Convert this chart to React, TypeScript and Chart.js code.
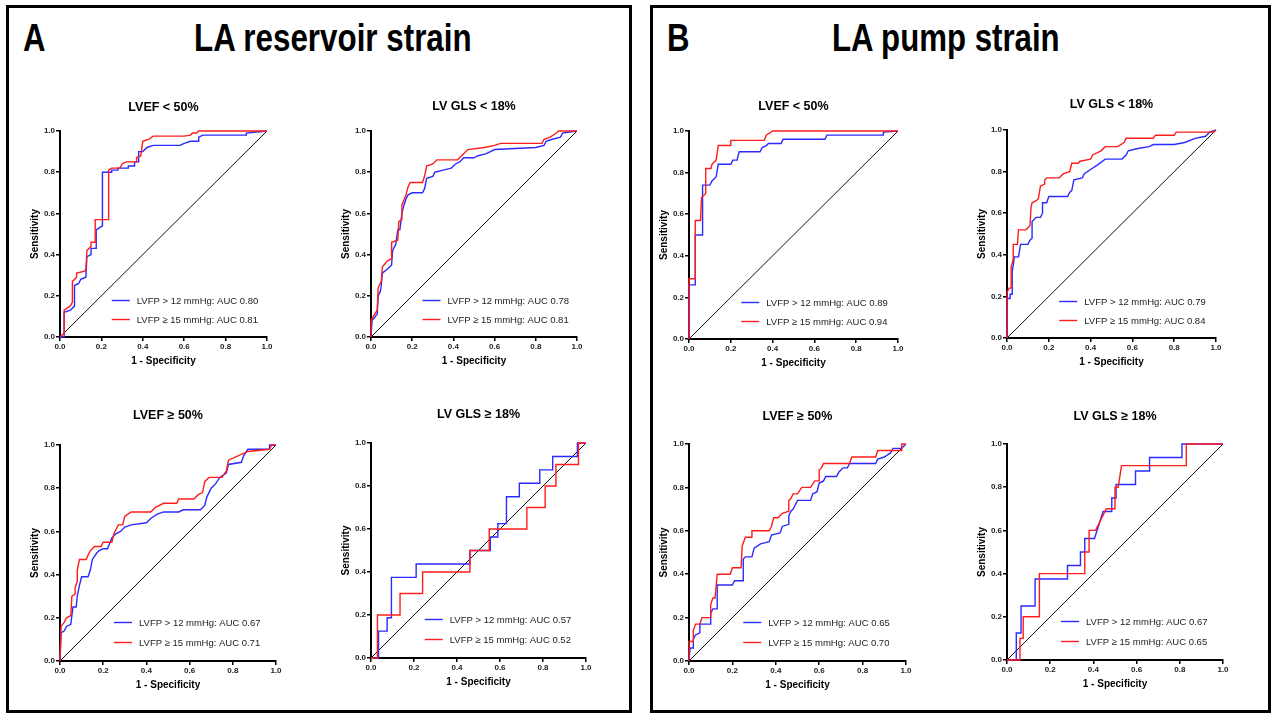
import React, { useEffect, useRef } from 'react';
import { Chart, registerables } from 'chart.js';

Chart.register(...registerables);

type Pt = [number, number];

// ---------- text ----------
const panelLetters = ['A', 'B'];
const panelTitles = ['LA reservoir strain', 'LA pump strain'];
const subplotTitles = ['LVEF < 50%', 'LV GLS < 18%', 'LVEF ≥ 50%', 'LV GLS ≥ 18%'];
const seriesNames = ['LVFP > 12 mmHg', 'LVFP ≥ 15 mmHg'];
const xAxisTitle = '1 - Specificity';
const yAxisTitle = 'Sensitivity';
const tickValues = [0, 0.2, 0.4, 0.6, 0.8, 1.0];

// ---------- AUC values ----------
const aucReservoir12 = [0.80, 0.78, 0.67, 0.57];
const aucReservoir15 = [0.81, 0.81, 0.71, 0.52];
const aucPump12 = [0.89, 0.79, 0.65, 0.67];
const aucPump15 = [0.94, 0.84, 0.70, 0.65];

// ---------- reference line ----------
const referenceLine: Pt[] = [[0, 0], [1, 1]];

// ---------- A: LA reservoir strain ----------
const resLvefLow12: Pt[] = [[0,0],[0.02,0],[0.02,0.12],[0.05,0.13],[0.07,0.15],[0.07,0.25],[0.09,0.26],[0.1,0.28],[0.125,0.29],[0.13,0.39],[0.15,0.4],[0.15,0.43],[0.175,0.43],[0.175,0.52],[0.19,0.53],[0.205,0.54],[0.205,0.8],[0.25,0.8],[0.25,0.81],[0.28,0.81],[0.28,0.82],[0.33,0.82],[0.33,0.83],[0.36,0.83],[0.36,0.85],[0.38,0.85],[0.38,0.9],[0.4,0.9],[0.42,0.92],[0.45,0.93],[0.58,0.93],[0.6,0.94],[0.63,0.95],[0.67,0.95],[0.67,0.97],[0.69,0.98],[0.9,0.98],[0.9,0.99],[1,1]];
const resLvefLow15: Pt[] = [[0,0],[0.02,0.02],[0.02,0.13],[0.05,0.15],[0.06,0.17],[0.06,0.27],[0.08,0.29],[0.08,0.31],[0.12,0.32],[0.125,0.33],[0.13,0.42],[0.15,0.44],[0.15,0.46],[0.17,0.46],[0.17,0.57],[0.235,0.57],[0.235,0.81],[0.25,0.82],[0.29,0.82],[0.3,0.84],[0.32,0.85],[0.37,0.85],[0.37,0.87],[0.39,0.88],[0.4,0.95],[0.43,0.96],[0.45,0.975],[0.6,0.975],[0.63,0.98],[0.64,0.99],[0.66,0.99],[0.67,1],[1,1]];
const resGlsLow12: Pt[] = [[0,0],[0.005,0.08],[0.03,0.11],[0.035,0.2],[0.045,0.22],[0.05,0.25],[0.055,0.31],[0.08,0.33],[0.1,0.35],[0.105,0.42],[0.12,0.45],[0.13,0.52],[0.14,0.52],[0.15,0.6],[0.16,0.64],[0.17,0.67],[0.18,0.69],[0.2,0.7],[0.25,0.7],[0.26,0.72],[0.27,0.77],[0.3,0.78],[0.31,0.8],[0.35,0.81],[0.39,0.82],[0.41,0.84],[0.43,0.85],[0.45,0.87],[0.5,0.87],[0.52,0.88],[0.56,0.89],[0.6,0.91],[0.8,0.92],[0.84,0.93],[0.85,0.95],[0.88,0.96],[0.92,0.97],[0.93,0.99],[1,1]];
const resGlsLow15: Pt[] = [[0,0],[0,0.08],[0.03,0.13],[0.035,0.24],[0.05,0.27],[0.055,0.34],[0.08,0.37],[0.1,0.38],[0.1,0.46],[0.13,0.47],[0.135,0.56],[0.15,0.57],[0.15,0.64],[0.17,0.69],[0.18,0.73],[0.19,0.75],[0.25,0.75],[0.26,0.78],[0.27,0.83],[0.3,0.84],[0.32,0.86],[0.42,0.86],[0.44,0.88],[0.47,0.91],[0.55,0.92],[0.6,0.93],[0.63,0.94],[0.83,0.94],[0.84,0.96],[0.87,0.97],[0.9,0.99],[0.91,1],[1,1]];
const resLvefHigh12: Pt[] = [[0,0],[0.005,0.13],[0.02,0.14],[0.03,0.16],[0.05,0.17],[0.06,0.25],[0.075,0.25],[0.08,0.3],[0.09,0.35],[0.1,0.39],[0.13,0.39],[0.14,0.42],[0.15,0.47],[0.17,0.5],[0.18,0.51],[0.2,0.52],[0.22,0.52],[0.24,0.57],[0.26,0.59],[0.28,0.6],[0.3,0.62],[0.33,0.63],[0.4,0.64],[0.42,0.66],[0.45,0.68],[0.48,0.69],[0.55,0.69],[0.57,0.7],[0.65,0.7],[0.67,0.72],[0.68,0.76],[0.7,0.8],[0.72,0.82],[0.74,0.85],[0.77,0.87],[0.78,0.91],[0.84,0.92],[0.85,0.95],[0.87,0.98],[0.97,0.98],[0.97,1],[1,1]];
const resLvefHigh15: Pt[] = [[0,0],[0.005,0.16],[0.02,0.18],[0.03,0.2],[0.05,0.21],[0.055,0.3],[0.07,0.31],[0.07,0.34],[0.08,0.37],[0.08,0.42],[0.09,0.47],[0.12,0.47],[0.13,0.49],[0.14,0.51],[0.16,0.53],[0.19,0.53],[0.2,0.55],[0.24,0.55],[0.25,0.59],[0.27,0.63],[0.29,0.63],[0.3,0.67],[0.33,0.69],[0.42,0.69],[0.44,0.71],[0.48,0.73],[0.54,0.73],[0.55,0.75],[0.62,0.75],[0.64,0.77],[0.66,0.78],[0.67,0.83],[0.69,0.85],[0.75,0.85],[0.77,0.88],[0.78,0.93],[0.87,0.97],[0.97,0.98],[0.98,1],[1,1]];
const resGlsHigh12: Pt[] = [[0,0],[0.035,0],[0.035,0.125],[0.075,0.125],[0.075,0.1875],[0.095,0.1875],[0.095,0.375],[0.21,0.375],[0.21,0.4375],[0.46,0.4375],[0.46,0.5],[0.555,0.5],[0.555,0.5625],[0.59,0.5625],[0.59,0.625],[0.63,0.625],[0.63,0.75],[0.69,0.75],[0.69,0.8125],[0.785,0.8125],[0.785,0.875],[0.845,0.875],[0.845,0.9375],[0.96,0.9375],[0.96,1],[1,1]];
const resGlsHigh15: Pt[] = [[0,0],[0.03,0],[0.03,0.2],[0.135,0.2],[0.135,0.3],[0.24,0.3],[0.24,0.4],[0.46,0.4],[0.46,0.5],[0.55,0.5],[0.55,0.6],[0.725,0.6],[0.725,0.7],[0.81,0.7],[0.81,0.8],[0.86,0.8],[0.86,0.9],[0.965,0.9],[0.965,1],[1,1]];

// ---------- B: LA pump strain ----------
const pumpLvefLow12: Pt[] = [[0,0],[0,0.26],[0.03,0.26],[0.03,0.5],[0.065,0.5],[0.065,0.74],[0.1,0.74],[0.11,0.76],[0.13,0.78],[0.14,0.84],[0.2,0.84],[0.21,0.86],[0.23,0.86],[0.24,0.9],[0.34,0.9],[0.35,0.92],[0.37,0.93],[0.38,0.94],[0.44,0.94],[0.45,0.96],[0.65,0.96],[0.66,0.98],[0.93,0.98],[0.93,0.995],[1,1]];
const pumpLvefLow15: Pt[] = [[0,0],[0,0.29],[0.03,0.29],[0.03,0.57],[0.055,0.57],[0.06,0.68],[0.08,0.7],[0.08,0.82],[0.105,0.82],[0.11,0.84],[0.13,0.86],[0.14,0.93],[0.2,0.93],[0.2,0.955],[0.36,0.955],[0.37,0.98],[0.4,1],[1,1]];
const pumpGlsLow12: Pt[] = [[0,0],[0,0.19],[0.015,0.19],[0.015,0.21],[0.025,0.21],[0.025,0.32],[0.03,0.35],[0.035,0.39],[0.055,0.39],[0.065,0.45],[0.1,0.45],[0.11,0.47],[0.12,0.48],[0.12,0.56],[0.14,0.58],[0.16,0.58],[0.17,0.6],[0.17,0.65],[0.19,0.65],[0.2,0.68],[0.29,0.68],[0.3,0.7],[0.31,0.71],[0.32,0.76],[0.36,0.77],[0.37,0.79],[0.4,0.81],[0.43,0.83],[0.47,0.86],[0.55,0.86],[0.57,0.88],[0.58,0.9],[0.62,0.91],[0.68,0.92],[0.7,0.93],[0.8,0.93],[0.85,0.94],[0.9,0.96],[0.95,0.97],[0.97,0.99],[1,1]];
const pumpGlsLow15: Pt[] = [[0,0],[0,0.22],[0.01,0.24],[0.02,0.24],[0.02,0.34],[0.03,0.38],[0.03,0.45],[0.05,0.45],[0.055,0.52],[0.09,0.52],[0.11,0.54],[0.115,0.63],[0.12,0.65],[0.14,0.66],[0.15,0.67],[0.16,0.73],[0.18,0.74],[0.18,0.76],[0.19,0.77],[0.25,0.77],[0.27,0.79],[0.3,0.8],[0.31,0.84],[0.34,0.84],[0.35,0.85],[0.4,0.86],[0.41,0.88],[0.45,0.9],[0.47,0.92],[0.53,0.92],[0.56,0.94],[0.57,0.96],[0.7,0.96],[0.71,0.975],[0.8,0.975],[0.81,0.99],[0.99,0.99],[1,1]];
const pumpLvefHigh12: Pt[] = [[0,0],[0.005,0.06],[0.02,0.06],[0.02,0.1],[0.03,0.12],[0.05,0.13],[0.05,0.17],[0.1,0.17],[0.1,0.22],[0.11,0.24],[0.13,0.24],[0.13,0.35],[0.2,0.35],[0.21,0.37],[0.25,0.37],[0.25,0.47],[0.26,0.48],[0.29,0.48],[0.3,0.52],[0.33,0.54],[0.37,0.55],[0.38,0.58],[0.42,0.59],[0.43,0.62],[0.46,0.63],[0.46,0.67],[0.47,0.69],[0.48,0.7],[0.49,0.72],[0.5,0.74],[0.56,0.74],[0.57,0.77],[0.59,0.78],[0.6,0.82],[0.62,0.83],[0.63,0.85],[0.68,0.85],[0.69,0.87],[0.71,0.89],[0.73,0.89],[0.74,0.91],[0.86,0.91],[0.87,0.93],[0.9,0.94],[0.93,0.96],[0.94,0.98],[0.98,0.98],[1,1]];
const pumpLvefHigh15: Pt[] = [[0,0],[0,0.09],[0.02,0.09],[0.02,0.14],[0.03,0.17],[0.05,0.17],[0.06,0.2],[0.1,0.2],[0.1,0.26],[0.11,0.29],[0.12,0.29],[0.13,0.4],[0.19,0.4],[0.2,0.43],[0.24,0.43],[0.245,0.53],[0.26,0.57],[0.29,0.57],[0.29,0.6],[0.37,0.6],[0.38,0.62],[0.39,0.66],[0.41,0.66],[0.43,0.68],[0.46,0.69],[0.46,0.74],[0.47,0.75],[0.48,0.77],[0.5,0.77],[0.52,0.8],[0.56,0.8],[0.58,0.83],[0.6,0.83],[0.6,0.88],[0.61,0.89],[0.62,0.91],[0.74,0.91],[0.75,0.94],[0.86,0.94],[0.87,0.97],[0.98,0.97],[0.98,1],[1,1]];
const pumpGlsHigh12: Pt[] = [[0,0],[0.043,0],[0.043,0.125],[0.065,0.125],[0.065,0.25],[0.13,0.25],[0.13,0.375],[0.28,0.375],[0.28,0.4375],[0.34,0.4375],[0.34,0.5],[0.36,0.5],[0.36,0.5625],[0.405,0.5625],[0.445,0.6875],[0.485,0.6875],[0.485,0.75],[0.505,0.75],[0.505,0.8125],[0.595,0.8125],[0.595,0.875],[0.66,0.875],[0.66,0.9375],[0.81,0.9375],[0.81,1],[1,1]];
const pumpGlsHigh15: Pt[] = [[0,0],[0.06,0],[0.06,0.1],[0.075,0.1],[0.075,0.2],[0.15,0.2],[0.15,0.4],[0.36,0.4],[0.36,0.5],[0.38,0.5],[0.38,0.6],[0.41,0.6],[0.46,0.7],[0.5,0.7],[0.5,0.8],[0.515,0.8],[0.53,0.9],[0.83,0.9],[0.83,1],[1,1]];

// ---------- styling / layout ----------
const FONT = '"Liberation Sans", Arial, Helvetica, sans-serif';
const BLUE = '#2b2bff';
const RED = '#ff1c1c';
const AXIS_W = 50;
const AXIS_H = 35;
const TOP_H = 45;
const RIGHT_PAD = 20;

interface Box { L: number; T: number; W: number; H: number; off: number }

const boxesA: Box[] = [
  { L: 60, T: 131, W: 207, H: 206, off: 23 },
  { L: 371, T: 131, W: 206, H: 206, off: 24 },
  { L: 60, T: 445, W: 216, H: 216, off: 29 },
  { L: 371, T: 443, W: 215, H: 215, off: 28 },
];
const boxesB: Box[] = [
  { L: 689, T: 131, W: 209, H: 208, off: 24 },
  { L: 1007, T: 130, W: 209, H: 208, off: 25 },
  { L: 689, T: 444, W: 217, H: 217, off: 27 },
  { L: 1007, T: 444, W: 216, H: 216, off: 27 },
];

interface RocProps {
  box: Box;
  title: string;
  blue: Pt[];
  red: Pt[];
  blueLabel: string;
  redLabel: string;
}

function RocChart({ box, title, blue, red, blueLabel, redLabel }: RocProps) {
  const ref = useRef<HTMLCanvasElement>(null);
  const cw = box.W + AXIS_W + RIGHT_PAD;
  const ch = box.H + TOP_H + AXIS_H;

  useEffect(() => {
    const canvas = ref.current;
    if (!canvas) return;
    const overlayPlugin = {
      id: 'rocOverlay',
      afterDatasetsDraw(chart: any) {
        const { ctx, chartArea: a } = chart;
        const w = a.right - a.left;
        const h = a.bottom - a.top;
        ctx.save();
        // subplot title, centred over the plot area
        ctx.font = `bold 12.5px ${FONT}`;
        ctx.textAlign = 'center';
        ctx.textBaseline = 'middle';
        ctx.fillStyle = '#000';
        ctx.fillText(title, (a.left + a.right) / 2, a.top - box.off);
        // legend inside the plot area
        const items = [
          { color: BLUE, text: blueLabel, frac: 0.18 },
          { color: RED, text: redLabel, frac: 0.088 },
        ];
        ctx.font = `9.5px ${FONT}`;
        ctx.textAlign = 'left';
        for (const it of items) {
          const x0 = a.left + 0.25 * w;
          const y = Math.round(a.bottom - it.frac * h) + 0.5;
          ctx.strokeStyle = it.color;
          ctx.lineWidth = 1.4;
          ctx.beginPath();
          ctx.moveTo(x0, y);
          ctx.lineTo(x0 + 18, y);
          ctx.stroke();
          ctx.fillStyle = '#222';
          ctx.fillText(it.text, x0 + 25, y + 0.5);
        }
        ctx.restore();
      },
    };

    const toXY = (arr: Pt[]) => arr.map(([x, y]) => ({ x, y }));
    const tickFont = { family: FONT, size: 8, weight: 'bold' as const };
    const titleFont = { family: FONT, size: 10, weight: 'bold' as const };
    const fmt = (v: any) => Number(v).toFixed(1);

    const chart = new Chart(canvas, {
      type: 'scatter',
      data: {
        datasets: [
          { label: redLabel, data: toXY(red), borderColor: RED, borderWidth: 1.4, showLine: true, pointRadius: 0, clip: false as any, borderJoinStyle: 'miter' },
          { label: blueLabel, data: toXY(blue), borderColor: BLUE, borderWidth: 1.4, showLine: true, pointRadius: 0, clip: false as any, borderJoinStyle: 'miter' },
          { label: 'reference', data: toXY(referenceLine), borderColor: '#111', borderWidth: 1, showLine: true, pointRadius: 0, clip: false as any },
        ],
      },
      options: {
        responsive: false,
        animation: false,
        devicePixelRatio: 1,
        events: [],
        layout: { padding: { left: 0, right: RIGHT_PAD, top: TOP_H, bottom: 0 } },
        plugins: {
          legend: { display: false },
          tooltip: { enabled: false },
          title: { display: false },
        },
        scales: {
          x: {
            type: 'linear',
            min: 0,
            max: 1,
            afterBuildTicks: (s: any) => { s.ticks = tickValues.map((v) => ({ value: v })); },
            afterFit: (s: any) => { s.height = AXIS_H; },
            ticks: { callback: fmt, font: tickFont, color: '#222', padding: 1, maxRotation: 0, autoSkip: false },
            grid: { display: true, drawOnChartArea: false, drawTicks: true, tickLength: 4, color: '#000', lineWidth: 1.5 },
            border: { display: true, color: '#000', width: 2 },
            title: { display: true, text: xAxisTitle, color: '#000', font: titleFont, padding: { top: 0, bottom: 5 } },
          },
          y: {
            type: 'linear',
            min: 0,
            max: 1,
            afterBuildTicks: (s: any) => { s.ticks = tickValues.map((v) => ({ value: v })); },
            afterFit: (s: any) => { s.width = AXIS_W; },
            ticks: { callback: fmt, font: tickFont, color: '#222', padding: 1, autoSkip: false },
            grid: { display: true, drawOnChartArea: false, drawTicks: true, tickLength: 4, color: '#000', lineWidth: 1.5 },
            border: { display: true, color: '#000', width: 2 },
            title: { display: true, text: yAxisTitle, color: '#000', font: titleFont, padding: { top: 19, bottom: 0 } },
          },
        },
      } as any,
      plugins: [overlayPlugin],
    });
    return () => chart.destroy();
  }, []);

  return (
    <canvas
      ref={ref}
      width={cw}
      height={ch}
      style={{ position: 'absolute', left: box.L - AXIS_W, top: box.T - TOP_H, width: cw, height: ch }}
    />
  );
}

const label = (i: number, auc: number) => `${seriesNames[i]}: AUC ${auc.toFixed(2)}`;

const curvesA: [Pt[], Pt[]][] = [
  [resLvefLow12, resLvefLow15],
  [resGlsLow12, resGlsLow15],
  [resLvefHigh12, resLvefHigh15],
  [resGlsHigh12, resGlsHigh15],
];
const curvesB: [Pt[], Pt[]][] = [
  [pumpLvefLow12, pumpLvefLow15],
  [pumpGlsLow12, pumpGlsLow15],
  [pumpLvefHigh12, pumpLvefHigh15],
  [pumpGlsHigh12, pumpGlsHigh15],
];

const headingStyle = (left: number, scale: number): React.CSSProperties => ({
  position: 'absolute',
  left,
  top: 18,
  font: `bold 39px ${FONT}`,
  lineHeight: '39px',
  color: '#000',
  whiteSpace: 'nowrap',
  transform: `scaleX(${scale})`,
  transformOrigin: 'left top',
});

export default function App() {
  return (
    <div style={{ position: 'absolute', left: 0, top: 0, width: 1271, height: 713, background: '#fff', overflow: 'hidden' }}>
      <div style={{ position: 'absolute', left: 6, top: 5, width: 626, height: 708, border: '3px solid #000', boxSizing: 'border-box' }} />
      <div style={{ position: 'absolute', left: 650, top: 5, width: 621, height: 708, border: '3px solid #000', boxSizing: 'border-box' }} />
      <div style={headingStyle(23, 0.8)}>{panelLetters[0]}</div>
      <div style={headingStyle(194, 0.804)}>{panelTitles[0]}</div>
      <div style={headingStyle(667, 0.8)}>{panelLetters[1]}</div>
      <div style={headingStyle(832, 0.8)}>{panelTitles[1]}</div>
      {boxesA.map((b, i) => (
        <RocChart
          key={'a' + i}
          box={b}
          title={subplotTitles[i]}
          blue={curvesA[i][0]}
          red={curvesA[i][1]}
          blueLabel={label(0, aucReservoir12[i])}
          redLabel={label(1, aucReservoir15[i])}
        />
      ))}
      {boxesB.map((b, i) => (
        <RocChart
          key={'b' + i}
          box={b}
          title={subplotTitles[i]}
          blue={curvesB[i][0]}
          red={curvesB[i][1]}
          blueLabel={label(0, aucPump12[i])}
          redLabel={label(1, aucPump15[i])}
        />
      ))}
    </div>
  );
}
